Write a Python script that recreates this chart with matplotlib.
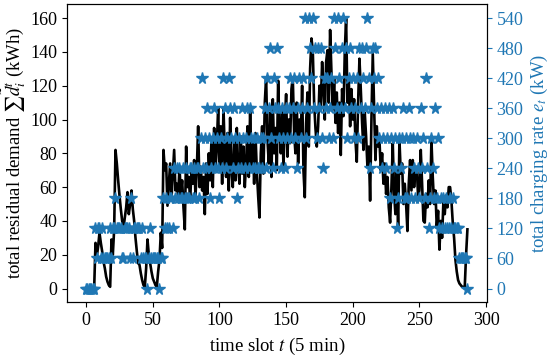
import matplotlib
matplotlib.use('Agg')
import matplotlib.pyplot as plt

plt.rcParams['font.family'] = ['Liberation Serif', 'DejaVu Serif']
plt.rcParams['mathtext.fontset'] = 'stix'

# total residual demand per time slot (kWh), t = 0..286
demand = [
    0, 0, 0, 0, 0, 0, 0, 27, 19, 25,
    33, 27, 22, 16, 12, 7, 4, 2, 1, 29,
    20, 35, 82, 74, 64, 55, 47, 40, 36, 42,
    48, 57, 44, 50, 58, 47, 40, 30, 22, 15,
    14, 9, 5, 2, 1, 12, 29, 20, 15, 10,
    6, 4, 2, 1, 10, 17, 33, 24, 82, 70,
    74, 49, 62, 74, 53, 68, 82, 58, 62, 54,
    72, 56, 64, 48, 35, 84, 60, 66, 52, 70,
    62, 76, 55, 70, 96, 60, 72, 58, 66, 44,
    74, 56, 80, 64, 88, 60, 95, 70, 84, 107,
    72, 96, 62, 107, 80, 66, 92, 58, 101, 70,
    60, 88, 64, 95, 72, 62, 90, 68, 84, 60,
    75, 96, 66, 105, 72, 88, 62, 92, 70, 55,
    42, 80, 96, 68, 110, 125, 88, 74, 104, 66,
    112, 80, 95, 70, 123, 96, 80, 106, 72, 98,
    115, 78, 100, 86, 118, 125, 92, 80, 110, 74,
    100, 88, 120, 70, 54, 98, 116, 84, 130, 148,
    141, 110, 95, 84, 96, 120, 108, 134, 118, 100,
    134, 141, 110, 153, 128, 106, 124, 98, 116, 92,
    110, 79, 118, 102, 140, 160, 110, 124, 96, 118,
    100, 112, 88, 75, 110, 136, 118, 98, 82, 104,
    90, 72, 84, 52, 100, 139, 108, 76, 96, 84,
    88, 70, 80, 62, 74, 56, 66, 48, 39, 60,
    86, 56, 44, 70, 35, 88, 68, 74, 50, 62,
    50, 34, 62, 76, 58, 76, 60, 70, 72, 54,
    58, 82, 62, 40, 39, 56, 48, 64, 50, 88,
    66, 50, 58, 36, 46, 23, 40, 30, 52, 44,
    55, 48, 60, 60, 52, 39, 30, 17, 10, 5,
    3, 2, 1, 1, 1, 20, 35,
]

# total charging rate per time slot (kW)
rate = [
    0, 0, 0, 0, 0, 0, 0, 120, 60, 120,
    120, 60, 120, 60, 60, 60, 60, 60, 120, 60,
    120, 120, 180, 120, 120, 120, 120, 60, 60, 120,
    120, 120, 120, 60, 180, 60, 120, 120, 120, 120,
    120, 60, 120, 60, 60, 60, 0, 60, 120, 60,
    60, 60, 60, 60, 60, 0, 60, 60, 180, 120,
    180, 120, 120, 180, 180, 120, 240, 180, 240, 180,
    240, 180, 180, 240, 180, 240, 180, 180, 240, 240,
    180, 240, 180, 240, 240, 180, 300, 420, 240, 300,
    240, 360, 300, 180, 240, 300, 360, 240, 300, 240,
    180, 300, 240, 420, 360, 240, 300, 420, 360, 300,
    240, 360, 300, 180, 240, 300, 240, 360, 300, 240,
    300, 360, 240, 360, 300, 240, 300, 240, 300, 240,
    240, 300, 240, 300, 360, 240, 420, 360, 480, 300,
    240, 420, 360, 480, 360, 300, 240, 360, 300, 240,
    360, 300, 360, 420, 300, 360, 420, 300, 240, 360,
    420, 300, 360, 420, 540, 300, 360, 540, 480, 420,
    540, 360, 480, 300, 480, 360, 480, 300, 240, 420,
    360, 420, 300, 360, 420, 300, 540, 480, 360, 540,
    420, 360, 480, 540, 360, 480, 300, 420, 480, 360,
    420, 300, 360, 420, 300, 480, 360, 480, 420, 360,
    480, 540, 420, 240, 360, 480, 420, 480, 360, 420,
    300, 360, 240, 300, 360, 240, 300, 360, 180, 300,
    360, 240, 300, 120, 180, 300, 240, 300, 360, 180,
    300, 180, 360, 300, 180, 300, 240, 180, 300, 240,
    180, 360, 240, 300, 180, 420, 240, 120, 180, 300,
    240, 180, 360, 180, 300, 120, 180, 120, 180, 120,
    180, 120, 120, 180, 120, 180, 120, 120, 120, 120,
    60, 60, 60, 60, 60, 60, 0,
]

slots = list(range(len(demand)))
blue = '#1f77b4'

fig = plt.figure(figsize=(5.5, 3.57), dpi=100)
ax1 = fig.add_axes([0.122, 0.154, 0.763, 0.835])
ax1.plot(slots, demand, color='black', lw=1.9)
ax1.set_xlim(-14.3, 300.5)
ax1.set_ylim(-8, 168.4)
ax1.set_xticks([0, 50, 100, 150, 200, 250, 300])
ax1.set_yticks([0, 20, 40, 60, 80, 100, 120, 140, 160])
ax1.set_xlabel('time slot $t$ (5 min)', fontsize=13.5, labelpad=5)
ax1.set_ylabel(r'total residual demand $\sum\tilde{d}_i^t$ (kWh)', fontsize=13.5, labelpad=2)
ax1.tick_params(labelsize=13)

ax2 = ax1.twinx()
ax2.plot(slots, rate, linestyle='none', marker='*', color=blue, markersize=8.5)
ax2.set_ylim(-27, 568.4)
ax2.set_yticks([0, 60, 120, 180, 240, 300, 360, 420, 480, 540])
ax2.set_ylabel('total charging rate $e_t$ (kW)', color=blue, fontsize=13.5, labelpad=4)
ax2.tick_params(axis='y', colors=blue, labelsize=13)

fig.savefig('out.png', dpi=100)
